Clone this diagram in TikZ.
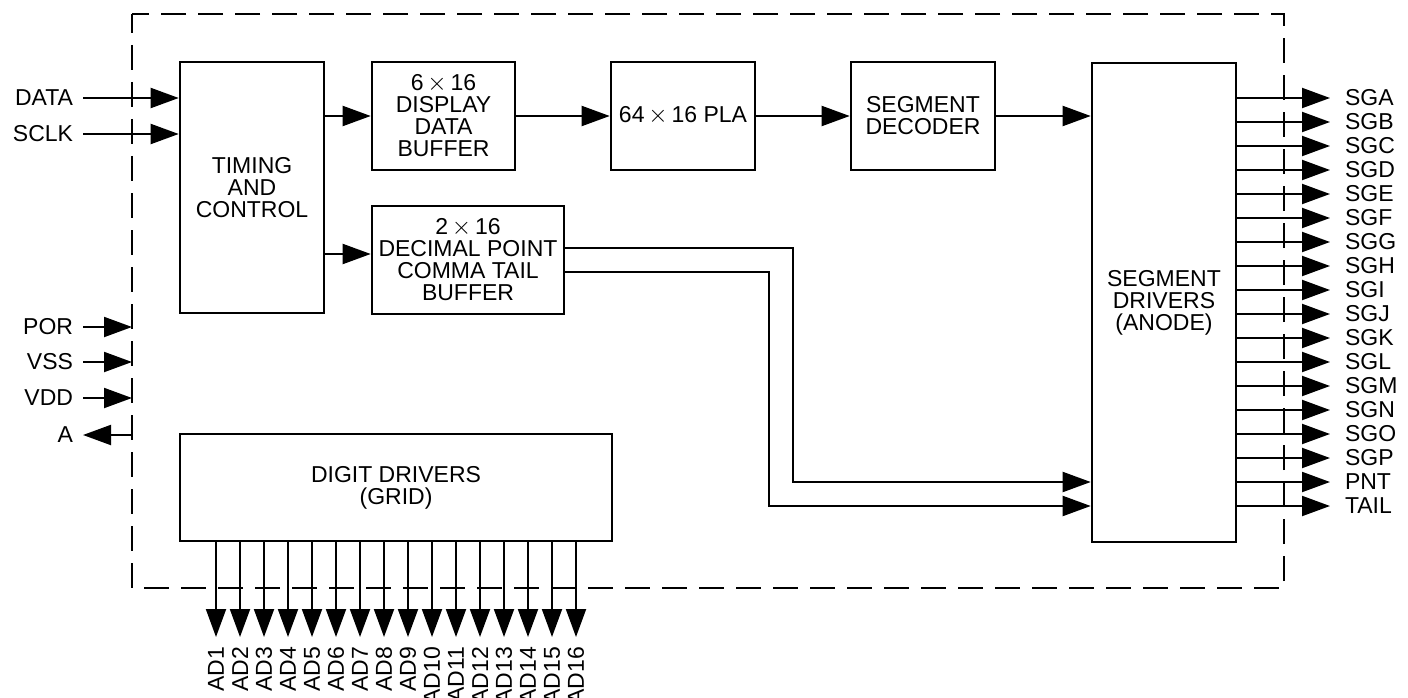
\documentclass[tikz,border=0pt]{standalone}
\usepackage{fontspec}
\setmainfont{Liberation Sans}
\usetikzlibrary{arrows.meta,positioning}

\begin{document}
\begin{tikzpicture}[x=1pt,y=-1pt,
  font=\fontsize{23}{22}\selectfont,
  blk/.style={draw,line width=2.6pt,align=center,inner sep=0pt},
  sig/.style={line width=2pt,-{Triangle[length=28pt,width=20pt]}},
  wire/.style={line width=2pt},
  lpin/.style={anchor=east,inner sep=0pt,outer xsep=10pt},
  rpin/.style={anchor=west,inner sep=0pt,outer xsep=15pt},
  dpin/.style={anchor=east,rotate=90,inner sep=0pt,outer xsep=10pt}]
  \useasboundingbox (0,0) rectangle (1408,698);

  % chip outline
  \coordinate (chipNW) at (132,14);
  \coordinate (chipSE) at (1284,588);
  \draw[line width=2.2pt,dash pattern=on 25pt off 12pt,dash phase=6pt]
    (chipNW) -- (chipNW |- chipSE) -- (chipSE) -- (chipSE |- chipNW) -- cycle;

  % blocks
  \node[blk,minimum width=144pt,minimum height=251pt] (timing) at (252,187.5) {TIMING\\AND\\CONTROL};
  \node[blk,minimum width=143pt,minimum height=108pt] (dispbuf) at (443.5,116) {6\,$\times$\,16\\DISPLAY\\DATA\\BUFFER};
  \node[blk,minimum width=144pt,minimum height=108pt] (pla) at (683,116) {64\,$\times$\,16 PLA};
  \node[blk,minimum width=144pt,minimum height=108pt] (segdec) at (923,116) {SEGMENT\\DECODER};
  \node[blk,minimum width=192pt,minimum height=108pt] (dpbuf) at (468,260) {2\,$\times$\,16\\DECIMAL POINT\\COMMA TAIL\\BUFFER};
  \node[blk,minimum width=144pt,minimum height=479pt] (segdrv) at (1164,302.5) {SEGMENT\\DRIVERS\\(ANODE)};
  \node[blk,minimum width=432pt,minimum height=107pt] (digdrv) at (396,487.5) {DIGIT DRIVERS\\(GRID)};

  % data path
  \draw[sig] (timing.east |- dispbuf) -- (dispbuf);
  \draw[sig] (dispbuf) -- (pla);
  \draw[sig] (pla) -- (segdec);
  \draw[sig] (segdec) -- (segdec -| segdrv.west);
  \coordinate (dpin) at ([yshift=6pt]dpbuf.west);
  \draw[sig] (timing.east |- dpin) -- (dpin);

  % input pins
  \node[lpin] (data) at (83,98) {DATA};
  \node[lpin] (sclk) at (83,134) {SCLK};
  \draw[sig] (data) -- (data -| timing.west);
  \draw[sig] (sclk) -- (sclk -| timing.west);
  \node[lpin] (por) at (83,327) {POR};
  \node[lpin] (vss) at (83,362) {VSS};
  \node[lpin] (vdd) at (83,398) {VDD};
  \node[lpin] (a) at (83,435) {A};
  \draw[sig] (por) -- (por -| chipNW);
  \draw[sig] (vss) -- (vss -| chipNW);
  \draw[sig] (vdd) -- (vdd -| chipNW);
  \draw[sig] (a -| chipNW) -- (a);

  % segment outputs
  \foreach \n [count=\i from 0] in {SGA,SGB,SGC,SGD,SGE,SGF,SGG,SGH,SGI,SGJ,SGK,SGL,SGM,SGN,SGO,SGP,PNT,TAIL} {
    \node[rpin] (out\i) at (1330,98+24*\i) {\n};
    \draw[sig] (segdrv.east |- out\i) -- (out\i);
  }

  % decimal point / comma tail
  \draw[sig] ([yshift=12pt]dpbuf.east) -- ++(228,0) |- (segdrv.west |- out16);
  \draw[sig] ([yshift=-12pt]dpbuf.east) -- ++(204,0) |- (segdrv.west |- out17);

  % digit outputs
  \foreach \i in {1,...,16} {
    \node[dpin] (ad\i) at (192+24*\i,637) {AD\i};
    \draw[sig] (ad\i |- digdrv.south) -- (ad\i);
  }
\end{tikzpicture}
\end{document}
